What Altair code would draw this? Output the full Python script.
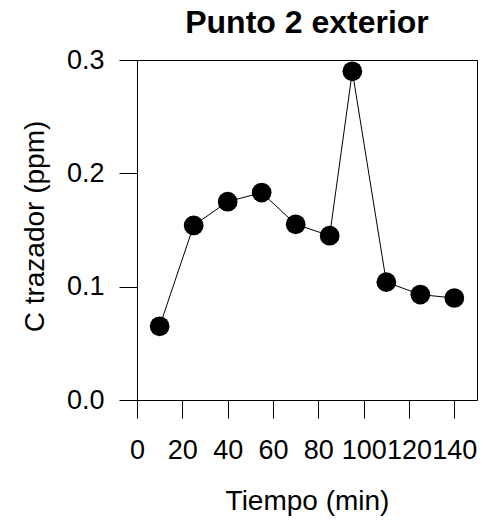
import altair as alt
import pandas as pd

tiempo = [10, 25, 40, 55, 70, 85, 95, 110, 125, 140]
conc = [0.065, 0.154, 0.175, 0.183, 0.155, 0.145, 0.290, 0.104, 0.093, 0.090]
x_ticks = [0, 20, 40, 60, 80, 100, 120, 140]
y_ticks = [0.0, 0.1, 0.2, 0.3]

df = pd.DataFrame({"t": tiempo, "c": conc})

FONT = "Liberation Sans"
FS = 27
FT = 28

x_enc = alt.X(
    "t:Q",
    scale=alt.Scale(domain=[0, 150], nice=False, zero=False),
    axis=alt.Axis(
        values=x_ticks, format="d", title="Tiempo (min)",
        tickSize=18, labelPadding=19, labelOverlap=False, labelFlush=False, labelBound=False,
        titleX=170, titleY=109, titleBaseline="alphabetic", titleAlign="center",
        domain=False,
    ),
)
y_enc = alt.Y(
    "c:Q",
    scale=alt.Scale(domain=[0, 0.3], nice=False, zero=False),
    axis=alt.Axis(
        values=y_ticks, format=".1f", title="C trazador (ppm)",
        tickSize=18, labelPadding=15, labelOverlap=False, labelFlush=False, labelBound=False,
        titleX=-94, titleY=166, titleBaseline="alphabetic", titleAlign="center", titleAngle=270,
        domain=False,
    ),
)

base = alt.Chart(df)
line = base.mark_line(color="black", strokeWidth=1).encode(x=x_enc, y=y_enc)
pts = base.mark_circle(color="black", opacity=1, size=390).encode(x="t:Q", y="c:Q")

chart = (
    alt.layer(line, pts)
    .properties(
        width=340,
        height=340,
        background="white",
        title=alt.TitleParams(
            "Punto 2 exterior", font=FONT, fontSize=32, fontWeight="bold",
            color="black", anchor="middle", baseline="bottom", offset=6, dy=32,
        ),
        autosize=alt.AutoSizeParams(type="none"),
        padding={"left": 137, "top": 60, "right": 6, "bottom": 124},
    )
    .configure_view(stroke="black", strokeWidth=1)
    .configure_axis(
        grid=False,
        labelFont=FONT, labelFontSize=FS, labelColor="black",
        titleFont=FONT, titleFontSize=FT, titleColor="black", titleFontWeight="normal",
        tickColor="black", tickWidth=1, domainColor="black",
    )
)

chart.save("out.html", embed_options={"renderer": "svg", "actions": False})
